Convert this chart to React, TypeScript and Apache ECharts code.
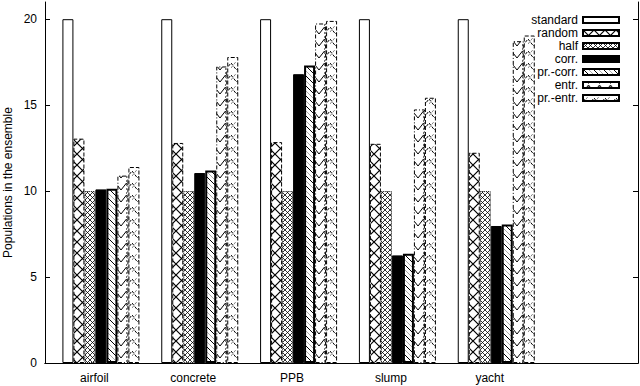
import React, { useEffect, useRef } from "react";
import * as echarts from "echarts";

const categories = ["airfoil", "concrete", "PPB", "slump", "yacht", ""];
const standard = [20, 20, 20, 20, 20];
const random = [13.05, 12.8, 12.85, 12.75, 12.23];
const half = [10, 10, 10, 10, 10];
const corr = [10.1, 11.05, 16.8, 6.26, 7.97];
const prCorr = [10.14, 11.2, 17.3, 6.36, 8.06];
const entr = [10.9, 17.25, 19.75, 14.75, 18.72];
const prEntr = [11.4, 17.8, 19.9, 15.43, 19.05];
const yTicks = [0, 5, 10, 15, 20];

function pat(w: number, h: number, draw: (c: CanvasRenderingContext2D) => void) {
  const c = document.createElement("canvas");
  c.width = w;
  c.height = h;
  const ctx = c.getContext("2d")!;
  ctx.fillStyle = "#fff";
  ctx.fillRect(0, 0, w, h);
  draw(ctx);
  return { image: c, repeat: "repeat" } as any;
}

export default function App() {
  const ref = useRef<HTMLDivElement>(null);
  useEffect(() => {
    const chart = echarts.init(ref.current!, null, { renderer: "svg" });
    const pRandom = pat(11, 11, (c) => {
      c.strokeStyle = "#000";
      c.lineWidth = 1.2;
      c.beginPath();
      c.moveTo(-1, -1); c.lineTo(12, 12);
      c.moveTo(12, -1); c.lineTo(-1, 12);
      c.stroke();
    });
    const pHalf = pat(5, 5, (c) => {
      c.strokeStyle = "#000";
      c.lineWidth = 0.8;
      c.beginPath();
      c.moveTo(-1, -1); c.lineTo(6, 6);
      c.moveTo(6, -1); c.lineTo(-1, 6);
      c.stroke();
    });
    const pPrCorr = pat(10, 10, (c) => {
      c.strokeStyle = "#000";
      c.lineWidth = 1;
      c.beginPath();
      c.moveTo(-1, -1); c.lineTo(11, 11);
      c.stroke();
      c.strokeStyle = "#aaa";
      c.beginPath();
      c.moveTo(-1, 4); c.lineTo(6, 11);
      c.moveTo(4, -1); c.lineTo(11, 6);
      c.stroke();
    });
    const pEntr = pat(11, 12, (c) => {
      c.strokeStyle = "#000";
      c.lineWidth = 1;
      c.beginPath();
      c.moveTo(0, 10); c.lineTo(5.5, 3); c.lineTo(11, 10);
      c.stroke();
      c.strokeStyle = "#777";
      c.setLineDash([2, 2]);
      c.beginPath();
      c.moveTo(5.5, 0); c.lineTo(5.5, 12);
      c.stroke();
    });
    const pPrEntr = pat(11, 12, (c) => {
      c.strokeStyle = "#000";
      c.lineWidth = 1;
      c.setLineDash([3, 1.5]);
      c.beginPath();
      c.moveTo(0, 3); c.lineTo(5.5, 10); c.lineTo(11, 3);
      c.stroke();
      c.strokeStyle = "#888";
      c.beginPath();
      c.moveTo(0, 8); c.lineTo(5.5, 1);
      c.stroke();
    });

    const font = "Liberation Sans";
    const bw = 11;
    const mk = (name: string, data: number[], color: any, extra: any = {}) => ({
      name,
      type: "bar",
      data,
      barWidth: bw,
      barGap: "0%",
      itemStyle: { color, borderColor: "#000", borderWidth: 1, ...extra },
    });

    chart.setOption({
      animation: false,
      backgroundColor: "#fff",
      textStyle: { fontFamily: font },
      grid: { left: 45, right: 2, top: 2, bottom: 23, containLabel: false, outerBoundsMode: "none" },
      legend: {
        orient: "vertical",
        right: 15,
        top: 9,
        align: "right",
        itemWidth: 36,
        itemHeight: 6,
        itemGap: 1,
        icon: "rect",
        textStyle: { fontSize: 12, color: "#000", fontFamily: font },
        data: ["standard", "random", "half", "corr.", "pr.-corr.", "entr.", "pr.-entr."],
      },
      xAxis: [
        {
          type: "category",
          data: categories,
          position: "bottom",
          axisLine: { lineStyle: { color: "#000", width: 1 } },
          axisTick: { show: false },
          axisLabel: { color: "#000", fontSize: 12, margin: 9, interval: 0, fontFamily: font },
        },
        {
          type: "category",
          data: categories,
          position: "top",
          axisLine: { lineStyle: { color: "#000", width: 1 } },
          axisTick: {
            inside: true,
            length: 5,
            alignWithLabel: true,
            interval: (i: number) => i < 5,
            lineStyle: { color: "#000" },
          },
          axisLabel: { show: false },
        },
      ],
      yAxis: [
        {
          type: "value",
          min: 0,
          max: 21,
          interval: 5,
          position: "left",
          name: "Populations in the ensemble",
          nameLocation: "middle",
          nameGap: 31,
          nameMoveOverlap: false,
          nameTextStyle: { fontSize: 12, color: "#000", fontFamily: font },
          axisLine: { show: true, lineStyle: { color: "#000", width: 1 } },
          axisTick: { show: true, inside: true, length: 5, customValues: yTicks, lineStyle: { color: "#000" } },
          axisLabel: { color: "#000", fontSize: 12, margin: 8, customValues: yTicks, fontFamily: font },
          splitLine: { show: false },
        },
        {
          type: "value",
          min: 0,
          max: 21,
          interval: 5,
          position: "right",
          axisLine: { show: true, lineStyle: { color: "#000", width: 1 } },
          axisTick: { show: true, inside: true, length: 5, customValues: yTicks, lineStyle: { color: "#000" } },
          axisLabel: { show: false },
          splitLine: { show: false },
        },
      ],
      series: [
        {
          name: "_spacer",
          type: "bar",
          data: [null, null, null, null, null],
          barWidth: 13,
          barGap: "0%",
          itemStyle: { color: "transparent" },
        },
        mk("standard", standard, "#fff"),
        mk("random", random, pRandom, { borderType: "dashed" }),
        mk("half", half, pHalf, { borderType: "dotted" }),
        mk("corr.", corr, "#000"),
        mk("pr.-corr.", prCorr, pPrCorr, { borderWidth: 2 }),
        mk("entr.", entr, pEntr, { borderType: [4, 2, 1, 2] }),
        mk("pr.-entr.", prEntr, pPrEntr, { borderType: "dashed" }),
      ],
    });
    return () => chart.dispose();
  }, []);
  return <div ref={ref} style={{ width: 640, height: 386, position: "absolute", left: 0, top: 0 }} />;
}
